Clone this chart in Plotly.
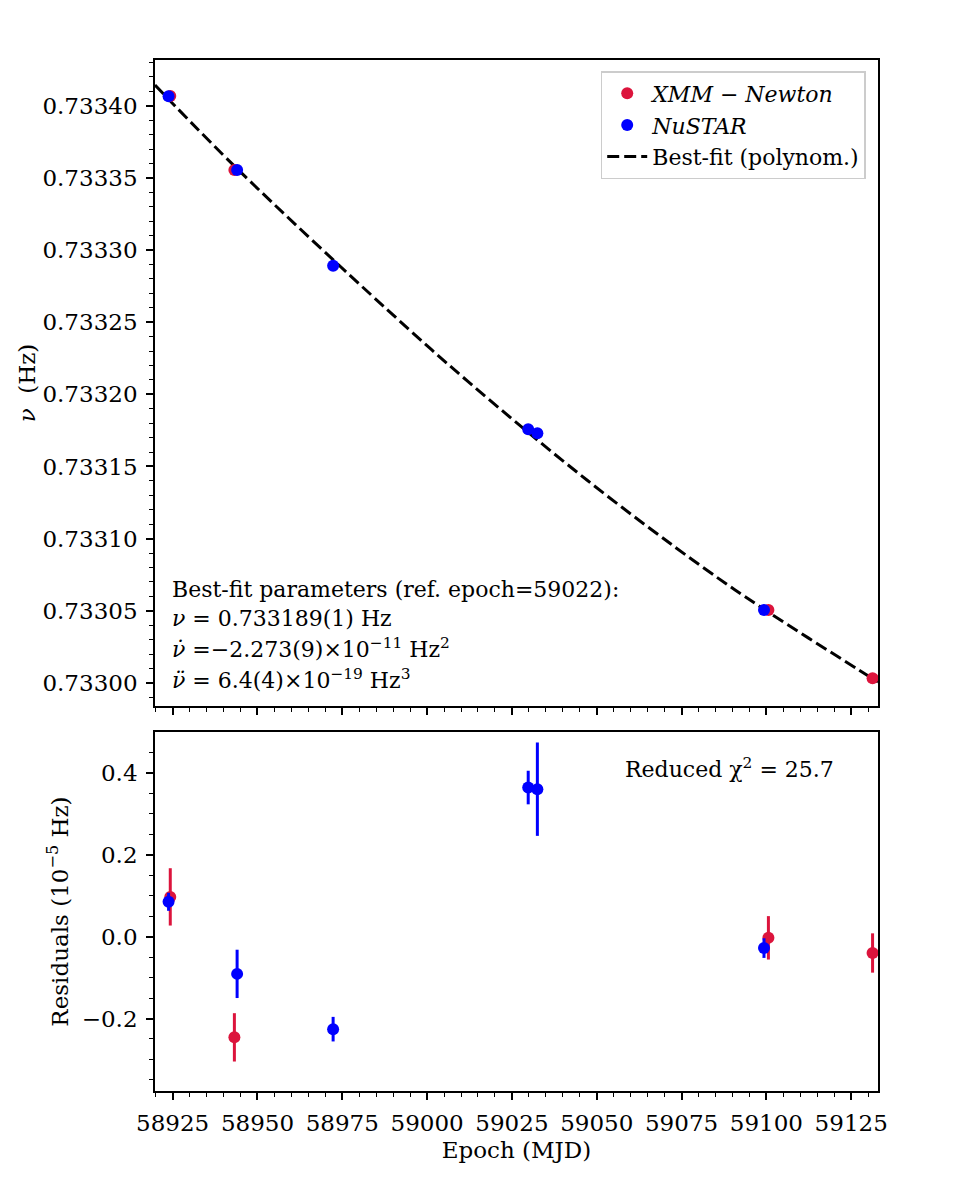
import plotly.graph_objects as go
from plotly.subplots import make_subplots

# Data
# XMM-Newton epochs (MJD), spin frequency (Hz), residuals and errors (1e-5 Hz)
xmm_mjd = [58924.3, 58943.2, 59100.6, 59131.3]
xmm_nu = [0.7334067, 0.7333554, 0.7330506, 0.7330033]
xmm_res = [0.097, -0.246, -0.003, -0.040]
xmm_err = [0.070, 0.059, 0.053, 0.048]

# NuSTAR
nustar_mjd = [58923.8, 58944.0, 58972.3, 59029.8, 59032.5, 59099.3]
nustar_nu = [0.7334065, 0.7333554, 0.7332891, 0.7331758, 0.7331730, 0.7330506]
nustar_res = [0.085, -0.091, -0.226, 0.364, 0.360, -0.028]
nustar_err = [0.022, 0.059, 0.030, 0.041, 0.114, 0.024]

# Best-fit polynomial curve, read at a few epochs
fit_mjd = [58919.8, 58943.9, 58988.1, 59012.1, 59047.1, 59081.0, 59099.6, 59129.6, 59132.9]
fit_nu = [0.7334143, 0.7333566, 0.7332590, 0.7332088, 0.7331406, 0.7330806, 0.7330506, 0.7330055, 0.7330006]

RED = '#DC143C'
BLUE = '#0000FF'
FONT = 'DejaVu Serif'
FS = 23      # ticks and axis titles
FS_TXT = 22  # annotations
FS_LEG = 22  # legend

fig = make_subplots(rows=2, cols=1, shared_xaxes=True)

# top panel
fig.add_trace(go.Scatter(
    x=fit_mjd, y=fit_nu, mode='lines', line_shape='spline',
    line=dict(color='black', width=3, dash='12px,5px'),
    name='Best-fit (polynom.)', legendrank=3), row=1, col=1)

fig.add_trace(go.Scatter(
    x=xmm_mjd, y=xmm_nu, mode='markers',
    marker=dict(color=RED, size=12),
    error_y=dict(type='data', array=[e * 1e-5 for e in xmm_err], color=RED, thickness=3, width=0),
    name='<i>XMM − Newton</i>', legendrank=1), row=1, col=1)

fig.add_trace(go.Scatter(
    x=nustar_mjd, y=nustar_nu, mode='markers',
    marker=dict(color=BLUE, size=12),
    error_y=dict(type='data', array=[e * 1e-5 for e in nustar_err], color=BLUE, thickness=3, width=0),
    name='<i>NuSTAR</i>', legendrank=2), row=1, col=1)

# residual panel
fig.add_hline(y=0, line=dict(color='black', width=3, dash='12px,5px'), row=2, col=1)

fig.add_trace(go.Scatter(
    x=xmm_mjd, y=xmm_res, mode='markers',
    marker=dict(color=RED, size=12),
    error_y=dict(type='data', array=xmm_err, color=RED, thickness=3, width=0),
    showlegend=False), row=2, col=1)

fig.add_trace(go.Scatter(
    x=nustar_mjd, y=nustar_res, mode='markers',
    marker=dict(color=BLUE, size=12),
    error_y=dict(type='data', array=nustar_err, color=BLUE, thickness=3, width=0),
    showlegend=False), row=2, col=1)

axis_style = dict(
    showline=True, linecolor='black', linewidth=1.7, mirror=True,
    ticks='outside', ticklen=7, tickwidth=1.7, tickcolor='black',
    showgrid=False, zeroline=False,
    tickfont=dict(family=FONT, size=FS, color='black'),
    ticklabelstandoff=4,
)

fig.update_xaxes(**axis_style)
fig.update_yaxes(**axis_style)

fig.update_xaxes(
    range=[58919.8, 59132.9], tick0=58925, dtick=25, tickformat='d',
    minor=dict(dtick=5, ticks='outside', ticklen=4, tickwidth=1.3, tickcolor='black'),
)
fig.update_xaxes(showticklabels=False, domain=[0, 1], row=1, col=1)
fig.update_xaxes(
    domain=[0, 1], row=2, col=1,
    title=dict(text='Epoch (MJD)', font=dict(family=FONT, size=FS, color='black'), standoff=6),
)

fig.update_yaxes(
    row=1, col=1, domain=[0.3734, 1.0],
    range=[0.7329840, 0.7334317], tick0=0.733, dtick=0.00005, tickformat='.5f',
    minor=dict(dtick=0.00001, ticks='outside', ticklen=4, tickwidth=1.3, tickcolor='black'),
    title=dict(text='<i>ν</i>  (Hz)', font=dict(family=FONT, size=FS, color='black'), standoff=0),
)
fig.update_yaxes(
    row=2, col=1, domain=[0, 0.3482],
    range=[-0.377, 0.4996], tick0=0, dtick=0.2, tickformat='.1f',
    minor=dict(dtick=0.05, ticks='outside', ticklen=4, tickwidth=1.3, tickcolor='black'),
    title=dict(text='Residuals (10<sup>−5</sup> Hz)', font=dict(family=FONT, size=FS, color='black'), standoff=7),
)

# fit parameter text, one annotation per line
param_lines = [
    'Best-fit parameters (ref. epoch=59022):',
    '<i>ν</i> = 0.733189(1) Hz',
    '<i>ν̇</i> =−2.273(9)×10<sup>−11</sup> Hz<sup>2</sup>',
    '<i>ν̈</i> = 6.4(4)×10<sup>−19</sup> Hz<sup>3</sup>',
]
line_y = [0.181, 0.136, 0.0898, 0.0418]
for txt, yy in zip(param_lines, line_y):
    fig.add_annotation(
        text=txt, xref='x domain', yref='y domain', x=0.0207, y=yy,
        xanchor='left', yanchor='middle', showarrow=False,
        font=dict(family=FONT, size=FS_TXT, color='black'),
    )

fig.add_annotation(
    text='Reduced χ<sup>2</sup> = 25.7', xref='x2 domain', yref='y2 domain',
    x=0.795, y=0.8997, xanchor='center', yanchor='middle', showarrow=False,
    font=dict(family=FONT, size=FS_TXT, color='black'),
)

# page body adds an 8px offset, margins compensate
fig.update_layout(
    width=975, height=1200,
    margin=dict(l=147, r=105, t=52, b=117),
    paper_bgcolor='white', plot_bgcolor='white',
    font=dict(family=FONT, size=FS, color='black'),
    legend=dict(
        x=0.983, y=0.9893, xanchor='right', yanchor='top',
        bordercolor='#cccccc', borderwidth=1.5, bgcolor='rgba(255,255,255,0.8)',
        font=dict(family=FONT, size=FS_LEG, color='black'),
        tracegroupgap=0, itemwidth=40,
    ),
)

fig.write_html("out.html")
